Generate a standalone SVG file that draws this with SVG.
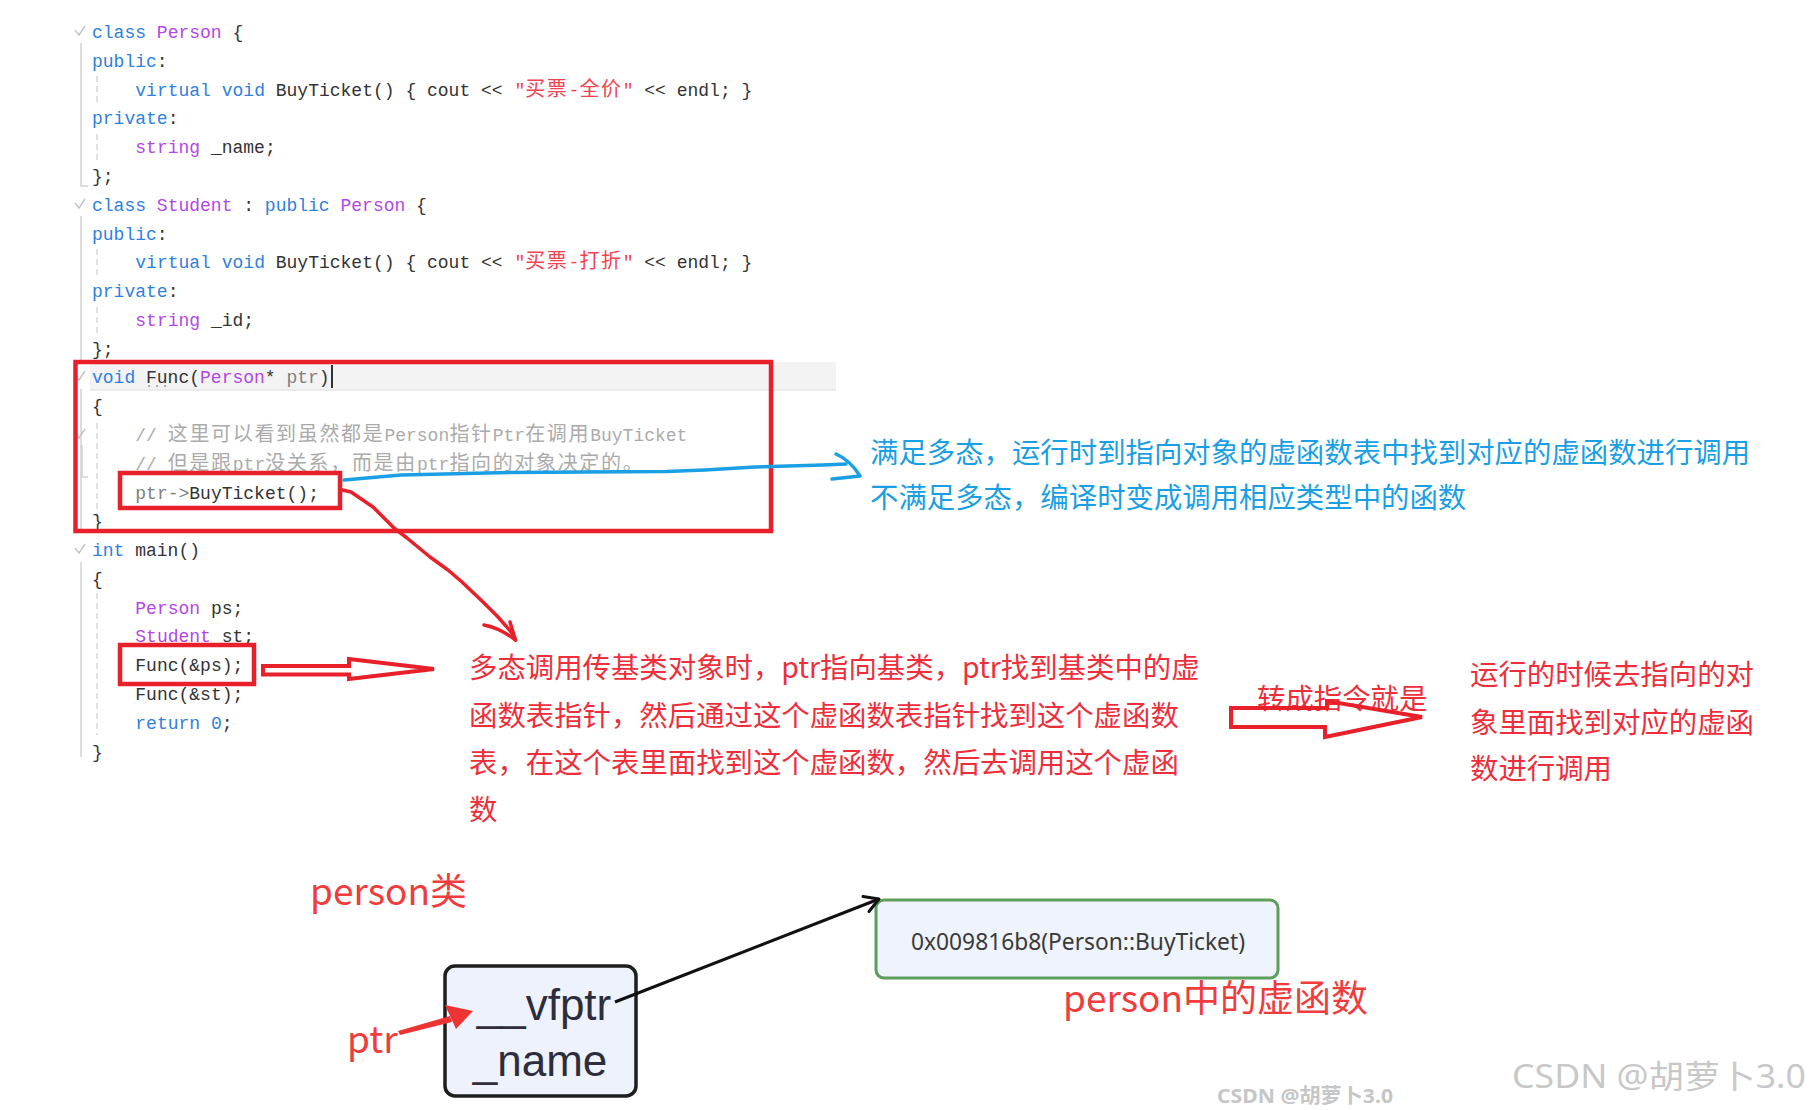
<svg xmlns="http://www.w3.org/2000/svg" width="1811" height="1110" viewBox="0 0 1811 1110">
<style>
.c{font-family:"Liberation Mono","Noto Sans CJK SC",monospace;font-size:18px;fill:#333333}
.k{fill:#2f80e0}
.t{fill:#b347e6}
.s{fill:#f04452}
.g{fill:#ababab}
.p{fill:#808080}
.cj{font-family:"Noto Sans CJK SC",sans-serif;font-size:20px;letter-spacing:1.66px}
.guide{stroke:#d2d2d2;stroke-width:1.5;fill:none}
.dash{stroke:#d8d8d8;stroke-width:1.5;stroke-dasharray:6 4;fill:none}
.chk{stroke:#c4c4c4;stroke-width:1.5;fill:none}
.rbox{fill:none;stroke:#e8202a;stroke-width:4.5}
.ann{font-family:"Noto Sans CJK SC",sans-serif;font-size:28.4px}
.red{fill:#ee2f3b}
.blue{fill:#1a9fe4}
.lbl{font-family:"Noto Sans CJK SC",sans-serif;font-size:37px;fill:#f03c3c}
.hand{fill:none;stroke:#e8202a;stroke-width:3.5;stroke-linejoin:round;stroke-linecap:round}
.field{font-family:"Liberation Sans",sans-serif;font-size:44px;fill:#2d2d3c}
</style>
<rect width="1811" height="1110" fill="#ffffff"/>

<g id="editor">
  <rect x="90" y="362" width="746" height="28" fill="#f3f3f3"/>
  <line x1="90" y1="390" x2="836" y2="390" stroke="#e6e6e6" stroke-width="1.5"/>
  <path class="guide" d="M81,43 V186 H88 M81,216 V360 M81,389 V530 M82,445 V477 H88 M81,562 V757"/>
  <path class="dash" d="M97,76 V102 M97,134 V160 M97,249 V275 M97,307 V333 M97,423 V517 M97,593 V735"/>
  <path class="chk" d="M75,30 L79,35 L85,26 M75,203 L79,208 L85,199 M75,375 L79,380 L85,371 M75,433 L79,438 L85,429 M75,548 L79,553 L85,544"/>
  <path d="M148,386 h2 M156,386 h2 M164,386 h2" stroke="#999" stroke-width="1.5"/>
  <line x1="332" y1="365" x2="332" y2="388" stroke="#333" stroke-width="2"/>

  <g class="c">
    <text x="92" y="38"><tspan class="k">class</tspan> <tspan class="t">Person</tspan> {</text>
    <text x="92" y="66.8"><tspan class="k">public</tspan>:</text>
    <text x="135.3" y="95.6"><tspan class="k">virtual</tspan> <tspan class="k">void</tspan> BuyTicket() { cout &lt;&lt; <tspan x="514.4" class="s">"</tspan><tspan x="525.2" class="s cj">买票</tspan><tspan x="568.5" class="s">-</tspan><tspan x="579.4" class="s cj">全价</tspan><tspan x="622.7" class="s">"</tspan><tspan x="644.3">&lt;&lt; endl; }</tspan></text>
    <text x="92" y="124.3"><tspan class="k">private</tspan>:</text>
    <text x="135.3" y="153.1"><tspan class="t">string</tspan> _name;</text>
    <text x="92" y="181.9">};</text>
    <text x="92" y="210.7"><tspan class="k">class</tspan> <tspan class="t">Student</tspan> : <tspan class="k">public</tspan> <tspan class="t">Person</tspan> {</text>
    <text x="92" y="239.5"><tspan class="k">public</tspan>:</text>
    <text x="135.3" y="268.2"><tspan class="k">virtual</tspan> <tspan class="k">void</tspan> BuyTicket() { cout &lt;&lt; <tspan x="514.4" class="s">"</tspan><tspan x="525.2" class="s cj">买票</tspan><tspan x="568.5" class="s">-</tspan><tspan x="579.4" class="s cj">打折</tspan><tspan x="622.7" class="s">"</tspan><tspan x="644.3">&lt;&lt; endl; }</tspan></text>
    <text x="92" y="297"><tspan class="k">private</tspan>:</text>
    <text x="135.3" y="325.8"><tspan class="t">string</tspan> _id;</text>
    <text x="92" y="354.6">};</text>
    <text x="92" y="383.4"><tspan class="k">void</tspan> Func(<tspan class="t">Person</tspan>* <tspan class="p">ptr</tspan>)</text>
    <text x="92" y="412.1">{</text>
    <text x="135.3" y="440.9" class="g">// <tspan x="167.8" class="cj">这里可以看到虽然都是</tspan><tspan x="384.4">Person</tspan><tspan x="449.4" class="cj">指针</tspan><tspan x="492.7">Ptr</tspan><tspan x="525.2" class="cj">在调用</tspan><tspan x="590.2">BuyTicket</tspan></text>
    <text x="135.3" y="469.7" class="g">// <tspan x="167.8" class="cj">但是跟</tspan><tspan x="232.8">ptr</tspan><tspan x="265.3" class="cj">没关系，而是由</tspan><tspan x="416.9">ptr</tspan><tspan x="449.4" class="cj">指向的对象决定的。</tspan></text>
    <text x="135.3" y="498.5"><tspan class="p">ptr-&gt;</tspan>BuyTicket();</text>
    <text x="92" y="527.3">}</text>
    <text x="92" y="556"><tspan class="k">int</tspan> main()</text>
    <text x="92" y="584.8">{</text>
    <text x="135.3" y="613.6"><tspan class="t">Person</tspan> ps;</text>
    <text x="135.3" y="642.4"><tspan class="t">Student</tspan> st;</text>
    <text x="135.3" y="671.2">Func(&amp;ps);</text>
    <text x="135.3" y="699.9">Func(&amp;st);</text>
    <text x="135.3" y="728.7"><tspan class="k">return</tspan> <tspan class="k">0</tspan>;</text>
    <text x="92" y="757.5">}</text>
  </g>
</g>

<g id="highlight-boxes">
  <rect id="box-func" class="rbox" x="75.5" y="362" width="695.5" height="169"/>
  <rect id="box-call" class="rbox" x="120" y="473" width="220" height="35"/>
  <rect id="box-funcps" class="rbox" x="120" y="645" width="134" height="39"/>
</g>

<g id="note-blue">
  <text class="ann blue" x="870" y="463">满足多态，运行时到指向对象的虚函数表中找到对应的虚函数进行调用</text>
  <text class="ann blue" x="870" y="508">不满足多态，编译时变成调用相应类型中的函数</text>
</g>

<g id="note-red">
  <text class="ann red" x="469" y="678">多态调用传基类对象时，ptr指向基类，ptr找到基类中的虚</text>
  <text class="ann red" x="469" y="725.5">函数表指针，然后通过这个虚函数表指针找到这个虚函数</text>
  <text class="ann red" x="469" y="773">表，在这个表里面找到这个虚函数，然后去调用这个虚函</text>
  <text class="ann red" x="469" y="820">数</text>
</g>

<g id="note-instr">
  <text class="ann red" x="1257" y="709">转成指令就是</text>
</g>

<g id="note-runtime">
  <text class="ann red" x="1470" y="685">运行的时候去指向的对</text>
  <text class="ann red" x="1470" y="733">象里面找到对应的虚函</text>
  <text class="ann red" x="1470" y="779">数进行调用</text>
</g>

<g id="label-person">
  <text class="lbl" x="310" y="905">person类</text>
</g>

<g id="node-object">
  <rect x="445" y="966" width="191" height="130" rx="10" fill="#eef2fc" stroke="#1e1e1e" stroke-width="3.5"/>
  <text class="field" x="544" y="1020" text-anchor="middle">__vfptr</text>
  <text class="field" x="540" y="1076" text-anchor="middle">_name</text>
</g>

<g id="node-vtable">
  <rect x="876" y="900" width="402" height="78" rx="8" fill="#eff3fb" stroke="#5c9e5c" stroke-width="3"/>
  <text x="911" y="950" font-family="Noto Sans, sans-serif" font-size="23" fill="#3a3a3a" textLength="334" lengthAdjust="spacingAndGlyphs">0x009816b8(Person::BuyTicket)</text>
</g>

<g id="label-vfunc">
  <text class="lbl" x="1063" y="1012">person中的虚函数</text>
</g>

<g id="label-ptr">
  <text class="lbl" x="347" y="1053">ptr</text>
</g>

<g id="connectors">
  <path d="M344,480 L401,475 L509,472.5 L666,471.5 L705,470 L755,467 L823,465 L846,464" fill="none" stroke="#1a9fe4" stroke-width="3.5" stroke-linejoin="round" stroke-linecap="round"/>
  <path d="M836,454 Q850,460 860,476 L832,479" fill="none" stroke="#1a9fe4" stroke-width="3.5" stroke-linejoin="round" stroke-linecap="round"/>
  <path class="hand" d="M342.5,490 L351,492 L373,507 L394,528 L407,538 L430,557 L448,570 L462,582 L484,603 L498,617 L512,633 L515.5,640"/>
  <path class="hand" d="M484,625 Q500,628 515.5,640 M510,622 L515.5,640"/>
  <path d="M263,666 L349,666 L349,659 L434,669 L349,679 L349,674.5 L263,674.5 Z" fill="none" stroke="#e8202a" stroke-width="4" stroke-linejoin="miter"/>
  <path d="M1231,708 L1327,708 L1327,701 L1422,717 L1325,737 L1325,727 L1231,727 Z" fill="none" stroke="#e8202a" stroke-width="4" stroke-linejoin="miter"/>
  <path d="M615,1002 L879,899" stroke="#111" stroke-width="3" fill="none"/>
  <path d="M863,896.5 L879,899 L869,911.5" stroke="#111" stroke-width="3" fill="none" stroke-linecap="round" stroke-linejoin="round"/>
  <path d="M398,1031 L450,1016 L452,1022 L400,1035 Z" fill="#ee3333"/>
  <path d="M473,1011 L445,1005 L456,1029 Z" fill="#ee3333"/>
</g>

<g id="watermarks">
  <text x="1217" y="1103" font-family="Noto Sans, Noto Sans CJK SC, sans-serif" font-size="20" font-weight="bold" fill="#c6c6c6" textLength="176" lengthAdjust="spacingAndGlyphs">CSDN @胡萝卜3.0</text>
  <text x="1512" y="1088" font-family="Noto Sans, Noto Sans CJK SC, sans-serif" font-size="32" fill="#c8c8c8" textLength="294" lengthAdjust="spacingAndGlyphs">CSDN @胡萝卜3.0</text>
</g>
</svg>
